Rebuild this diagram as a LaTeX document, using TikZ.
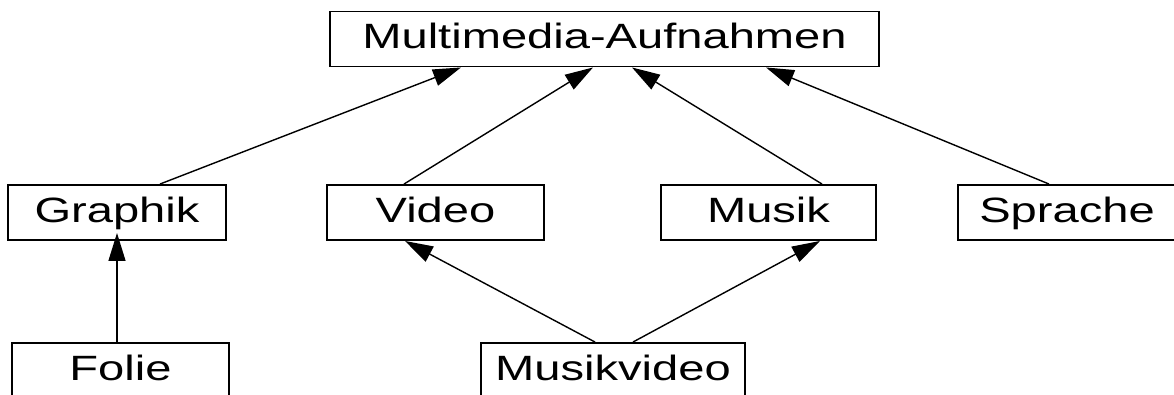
\documentclass[tikz,border=0pt]{standalone}
\usepackage{fontspec}
\setmainfont{Liberation Sans}[FakeStretch=1.34]
\usetikzlibrary{arrows.meta}
\tikzset{
    classbox/.style={rectangle, draw=black, line width=1.1pt, fill=white, inner sep=0pt,
        text height=7.4mm, text depth=3.6mm, font=\fontsize{20}{24}\selectfont},
    inherit/.style={-{Triangle[length=5.6mm, width=3.4mm]}, line width=0.8pt, black},
}
\begin{document}
\begin{tikzpicture}[x=0.2mm, y=-0.2mm]
    \useasboundingbox (0,0) rectangle (1174,394);

    % --- Oberklasse ---
    \node[classbox, minimum width=109.8mm] (mma) at (604.5,39) {Multimedia-Aufnahmen};

    % --- Unterklassen ---
    \node[classbox, minimum width=43.6mm] (graphik) at (117,212.5) {Graphik};
    \node[classbox, minimum width=43.4mm] (video) at (435.5,212.5) {Video};
    \node[classbox, minimum width=43mm] (musik) at (768.5,212.5) {Musik};
    \node[classbox, minimum width=43.6mm] (sprache) at (1067,212.5) {Sprache};

    % --- unterste Ebene ---
    \node[classbox, minimum width=43.4mm] (folie) at (120.5,370.5) {Folie};
    \node[classbox, minimum width=52.8mm] (musikvideo) at (613,370.5) {Musikvideo};

    % --- Vererbung ---
    \draw[inherit] ([xshift=8.6mm]graphik.north) -- ([xshift=-28.7mm]mma.south);
    \draw[inherit] ([xshift=-6.3mm]video.north) -- ([xshift=-2.3mm]mma.south);
    \draw[inherit] ([xshift=10.7mm]musik.north) -- ([xshift=5.5mm]mma.south);
    \draw[inherit] ([xshift=-3.6mm]sprache.north) -- ([xshift=32.3mm]mma.south);

    \draw[inherit, shorten >=-1.6mm] (graphik.south |- folie.north) -- (graphik.south);
    \draw[inherit] ([xshift=-3.6mm]musikvideo.north) -- ([xshift=-6.1mm]video.south);
    \draw[inherit] ([xshift=4mm]musikvideo.north) -- ([xshift=10.3mm]musik.south);
\end{tikzpicture}
\end{document}
